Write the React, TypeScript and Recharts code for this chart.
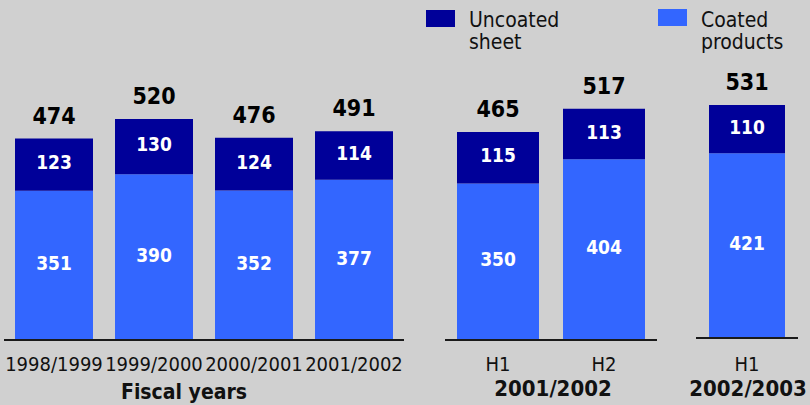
import { BarChart, Bar, XAxis, YAxis, LabelList } from "recharts"

const fiscalYears = ["1998/1999", "1999/2000", "2000/2001", "2001/2002"]
const fiscalCoated = [351, 390, 352, 377]
const fiscalUncoated = [123, 130, 124, 114]

const halves0102 = ["H1", "H2"]
const halvesCoated0102 = [350, 404]
const halvesUncoated0102 = [115, 113]

const halves0203 = ["H1"]
const halvesCoated0203 = [421]
const halvesUncoated0203 = [110]

const DARK = "#000099"
const LIGHT = "#3366ff"
const BG = "#d0d0d0"
const FONT = "'DejaVu Sans Condensed', 'DejaVu Sans', sans-serif"

type Row = { name: string; coated: number; uncoated: number; total: number }

function buildRows(names: string[], coated: number[], uncoated: number[]): Row[] {
    return names.map((name, i) => ({
        name,
        coated: coated[i],
        uncoated: uncoated[i],
        total: coated[i] + uncoated[i]
    }))
}

type PanelProps = {
    rows: Row[]
    left: number
    width: number
    baseline: number
    domainMax: number
    barSize: number
}

function Panel(props: PanelProps) {
    const tick = (p: any) => (
        <text
            x={p.x}
            y={371}
            textAnchor="middle"
            fontSize={20}
            fill="#111"
            fontFamily={FONT}
        >
            {p.payload.value}
        </text>
    )
    return (
        <div style={{ position: "absolute", left: props.left, top: 0 }}>
            <BarChart
                width={props.width}
                height={405}
                data={props.rows}
                margin={{ top: 0, right: 0, bottom: 0, left: 0 }}
            >
                <YAxis hide type="number" domain={[0, props.domainMax]} allowDataOverflow />
                <XAxis
                    dataKey="name"
                    height={405 - props.baseline}
                    interval={0}
                    tickLine={false}
                    tickSize={0}
                    axisLine={{ stroke: "#1a1a1a", strokeWidth: 2 }}
                    tick={tick}
                />
                <Bar
                    dataKey="coated"
                    stackId="a"
                    fill={LIGHT}
                    barSize={props.barSize}
                    isAnimationActive={false}
                >
                    <LabelList
                        dataKey="coated"
                        position="center"
                        fill="#fff"
                        fontSize={19}
                        fontWeight="bold"
                        fontFamily={FONT}
                        dy={-2}
                    />
                </Bar>
                <Bar
                    dataKey="uncoated"
                    stackId="a"
                    fill={DARK}
                    barSize={props.barSize}
                    isAnimationActive={false}
                >
                    <LabelList
                        dataKey="uncoated"
                        position="center"
                        fill="#fff"
                        fontSize={19}
                        fontWeight="bold"
                        fontFamily={FONT}
                        dy={-2}
                    />
                    <LabelList
                        dataKey="total"
                        position="top"
                        offset={15}
                        fill="#000"
                        fontSize={23}
                        fontWeight="bold"
                        fontFamily={FONT}
                    />
                </Bar>
            </BarChart>
        </div>
    )
}

export default function App() {
    return (
        <div
            style={{
                position: "absolute",
                left: 0,
                top: 0,
                width: 810,
                height: 405,
                background: BG,
                overflow: "hidden",
                fontFamily: FONT
            }}
        >
            <Panel
                rows={buildRows(fiscalYears, fiscalCoated, fiscalUncoated)}
                left={4}
                width={400}
                baseline={340}
                domainMax={800}
                barSize={78}
            />
            <Panel
                rows={buildRows(halves0102, halvesCoated0102, halvesUncoated0102)}
                left={445}
                width={212}
                baseline={340}
                domainMax={760}
                barSize={82}
            />
            <Panel
                rows={buildRows(halves0203, halvesCoated0203, halvesUncoated0203)}
                left={696}
                width={102}
                baseline={338}
                domainMax={770}
                barSize={76}
            />
            <svg
                width={810}
                height={405}
                style={{ position: "absolute", left: 0, top: 0, pointerEvents: "none" }}
                fontFamily={FONT}
            >
                <rect x={426} y={10} width={29} height={17} fill={DARK} />
                <text x={469} y={27} fontSize={21} fill="#111">Uncoated</text>
                <text x={469} y={49} fontSize={21} fill="#111">sheet</text>
                <rect x={658} y={9} width={29} height={17} fill={LIGHT} />
                <text x={701} y={27} fontSize={21} fill="#111">Coated</text>
                <text x={701} y={49} fontSize={21} fill="#111">products</text>
                <text x={184} y={399} fontSize={21} fontWeight="bold" textAnchor="middle" fill="#111">Fiscal years</text>
                <text x={553} y={396} fontSize={22} fontWeight="bold" textAnchor="middle" fill="#111">2001/2002</text>
                <text x={748} y={396} fontSize={22} fontWeight="bold" textAnchor="middle" fill="#111">2002/2003</text>
            </svg>
        </div>
    )
}
